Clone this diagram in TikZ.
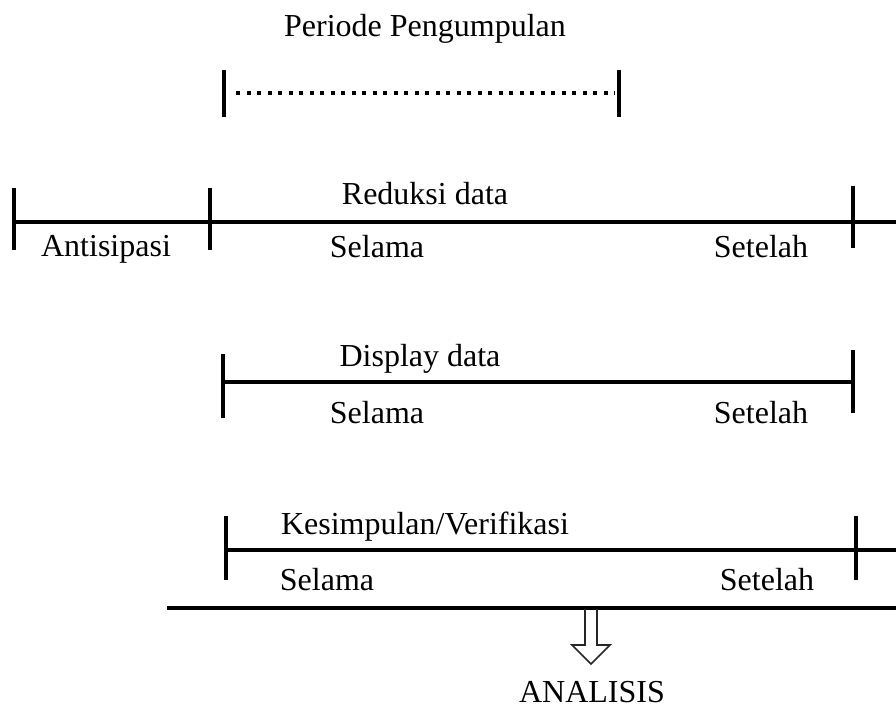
\documentclass[tikz,border=0pt]{standalone}
\usepackage{fontspec}
\setmainfont{Liberation Serif}
\begin{document}
\begin{tikzpicture}[x=1pt,y=-1pt,
  lbl/.style={anchor=base,inner sep=0pt,font=\fontsize{32}{37}\selectfont},
  bar/.style={line width=3.2pt,black},
  tick/.style={line width=3.2pt,black},
  dots/.style={line width=3.6pt,dash pattern=on 4pt off 6.5pt}]
\useasboundingbox (0,0) rectangle (896,708);
% top period
\node[lbl] (periode) at (425,37) {Periode Pengumpulan};
\coordinate (p1t) at (224,70); \coordinate (p1b) at (224,117);
\coordinate (p2t) at (619,70); \coordinate (p2b) at (619,117);
\coordinate (pd1) at (236,93); \coordinate (pd2) at (615,93);
\draw[tick] (p1t) -- (p1b);
\draw[tick] (p2t) -- (p2b);
\draw[dots] (pd1) -- (pd2);
% row 1
\coordinate (r1a) at (14,222); \coordinate (r1e) at (896,222);
\draw[bar] (r1a) -- (r1e);
\coordinate (t11t) at (14,188); \coordinate (t11b) at (14,250);
\coordinate (t12t) at (210,188); \coordinate (t12b) at (210,250);
\coordinate (t13t) at (853,186); \coordinate (t13b) at (853,248);
\draw[tick] (t11t) -- (t11b);
\draw[tick] (t12t) -- (t12b);
\draw[tick] (t13t) -- (t13b);
\node[lbl] (reduksi) at (425,205) {Reduksi data};
\node[lbl] (antisipasi) at (106,257) {Antisipasi};
\node[lbl] (selama1) at (377,258) {Selama};
\node[lbl] (setelah1) at (761,258) {Setelah};
% row 2
\coordinate (r2a) at (223,382); \coordinate (r2e) at (853,382);
\draw[bar] (r2a) -- (r2e);
\coordinate (t21t) at (223,354); \coordinate (t21b) at (223,418);
\coordinate (t22t) at (853,350); \coordinate (t22b) at (853,413);
\draw[tick] (t21t) -- (t21b);
\draw[tick] (t22t) -- (t22b);
\node[lbl] (display) at (420,366) {Display data};
\node[lbl] (selama2) at (377,423) {Selama};
\node[lbl] (setelah2) at (761,423) {Setelah};
% row 3
\coordinate (r3a) at (226,550); \coordinate (r3e) at (896,550);
\draw[bar] (r3a) -- (r3e);
\coordinate (t31t) at (226,516); \coordinate (t31b) at (226,580);
\coordinate (t32t) at (856,516); \coordinate (t32b) at (856,580);
\draw[tick] (t31t) -- (t31b);
\draw[tick] (t32t) -- (t32b);
\node[lbl] (kesimpulan) at (425,534) {Kesimpulan/Verifikasi};
\node[lbl] (selama3) at (327,590) {Selama};
\node[lbl] (setelah3) at (767,590) {Setelah};
% bottom line
\coordinate (ba) at (167,608); \coordinate (be) at (896,608);
\draw[line width=3.6pt] (ba) -- (be);
% hollow arrow
\draw[line width=1.6pt,black!85,line join=miter]
  (585,609) -- (585,645) -- (572,645) -- (591,664) -- (610,645) -- (597,645) -- (597,609);
\node[lbl] (analisis) at (592,702) {ANALISIS};
\end{tikzpicture}
\end{document}
